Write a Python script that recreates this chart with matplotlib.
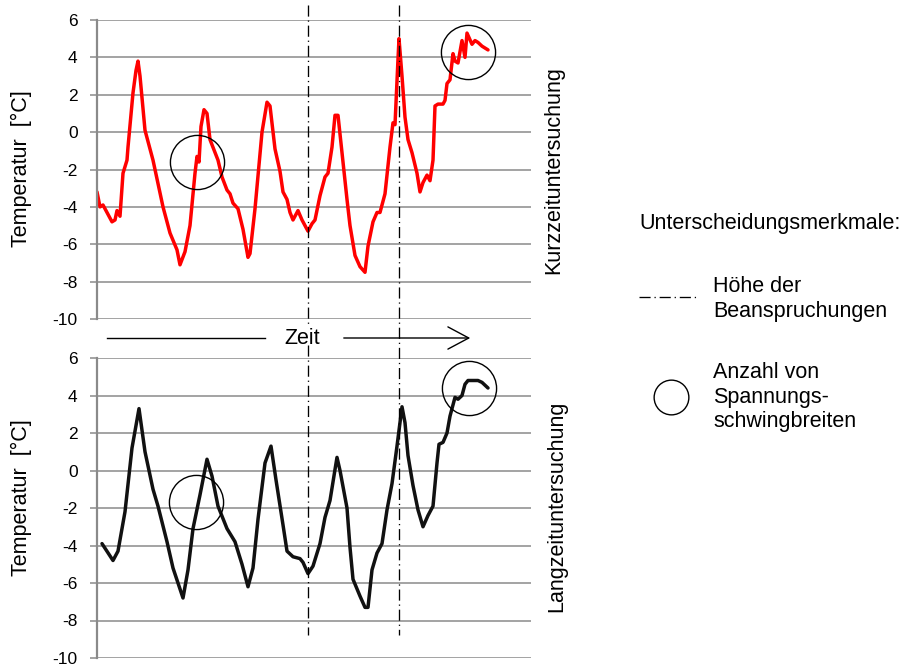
import numpy as np
import matplotlib.pyplot as plt
from matplotlib.lines import Line2D
from matplotlib.patches import FancyArrowPatch
from matplotlib.transforms import blended_transform_factory

plt.rcParams['font.family'] = ['Liberation Sans', 'DejaVu Sans']
plt.rcParams['lines.scale_dashes'] = False
plt.rcParams['axes.unicode_minus'] = False

# Kurzzeituntersuchung (rot), Zeit in willkuerlichen Einheiten
kurz_t = [0, 3, 6, 10, 15, 18, 20, 23, 26, 30, 31, 36, 39, 41, 43, 48, 56, 66, 73, 80, 83, 88, 93, 98,
          100, 102, 104, 107, 110, 113, 121, 125, 130, 133, 136, 141, 146, 151, 153, 158, 165, 170, 173,
          178, 183, 186, 190, 193, 196, 201, 205, 211, 215, 218, 223, 228, 231, 235, 238, 241, 245, 250,
          253, 258, 263, 268, 271, 276, 280, 283, 288, 293, 296, 298, 301, 302, 305, 308, 311, 315, 320,
          323, 326, 330, 333, 336, 338, 341, 346, 348, 350, 353, 356, 358, 361, 365, 368, 370, 375, 378,
          381, 385, 391]
kurz_temp = [-3.2, -4.0, -3.9, -4.3, -4.8, -4.7, -4.2, -4.5, -2.2, -1.5, -0.8, 2.1, 3.3, 3.8, 3.0, 0.1,
             -1.5, -4.0, -5.4, -6.3, -7.1, -6.4, -5.0, -2.2, -1.3, -1.6, 0.3, 1.2, 1.0, -0.4, -1.5, -2.4,
             -3.1, -3.3, -3.8, -4.1, -5.2, -6.7, -6.5, -4.1, 0.0, 1.6, 1.4, -0.9, -2.1, -3.2, -3.6, -4.3,
             -4.7, -4.2, -4.7, -5.3, -4.9, -4.7, -3.4, -2.4, -2.2, -0.8, 0.9, 0.9, -1.1, -3.6, -5.0, -6.6,
             -7.2, -7.5, -6.1, -4.8, -4.3, -4.3, -3.3, -0.8, 0.5, 0.4, 3.9, 5.0, 3.0, 0.8, -0.4, -1.1,
             -2.2, -3.2, -2.7, -2.3, -2.6, -1.5, 1.4, 1.5, 1.5, 1.7, 2.6, 2.8, 4.2, 3.8, 3.7, 4.9, 4.0,
             5.3, 4.7, 4.9, 4.8, 4.6, 4.4]

# Langzeituntersuchung (schwarz)
lang_t = [5, 16, 21, 28, 35, 42, 48, 56, 61, 70, 76, 86, 91, 96, 103, 110, 115, 121, 130, 138, 145, 151,
          156, 161, 168, 174, 179, 186, 190, 196, 203, 206, 211, 216, 223, 228, 233, 238, 240, 243, 250,
          253, 256, 263, 268, 271, 275, 280, 285, 290, 295, 300, 305, 308, 311, 316, 321, 326, 331, 336,
          340, 342, 346, 350, 353, 358, 361, 365, 368, 371, 376, 381, 385, 391]
lang_temp = [-3.9, -4.8, -4.3, -2.2, 1.2, 3.3, 1.0, -1.0, -1.9, -3.8, -5.2, -6.8, -5.3, -3.1, -1.3, 0.6,
             -0.3, -1.9, -3.1, -3.8, -5.0, -6.2, -5.2, -2.6, 0.4, 1.3, -0.5, -2.9, -4.3, -4.6, -4.7, -4.9,
             -5.5, -5.1, -3.9, -2.5, -1.6, 0.05, 0.7, 0.0, -2.0, -4.1, -5.8, -6.7, -7.3, -7.3, -5.3, -4.4,
             -3.9, -2.1, -0.7, 1.3, 3.4, 2.55, 0.8, -0.8, -2.1, -3.0, -2.4, -1.9, 0.4, 1.4, 1.5, 2.0, 2.9,
             3.9, 3.8, 4.0, 4.6, 4.8, 4.8, 4.8, 4.7, 4.4]

grenzen_t = [211, 302]          # Hoehe der Beanspruchungen
kurz_kreis_t = [100, 371]
kurz_kreis_temp = [-1.6, 4.3]
lang_kreis_t = [99, 372]
lang_kreis_temp = [-1.7, 4.4]
yticks = np.arange(-10, 7, 2)

W, H = 904, 667
fig = plt.figure(figsize=(W / 100, H / 100), dpi=100)


def fx(px):
    return px / W


def fy(py):
    return 1 - py / H


ax1 = fig.add_axes([fx(97), fy(319), fx(531) - fx(97), fy(20) - fy(319)])
ax2 = fig.add_axes([fx(97), fy(658), fx(531) - fx(97), fy(358) - fy(658)])

for ax, t, v, col, kt, kv in [(ax1, kurz_t, kurz_temp, '#ff0000', kurz_kreis_t, kurz_kreis_temp),
                              (ax2, lang_t, lang_temp, '#111111', lang_kreis_t, lang_kreis_temp)]:
    ax.plot(t, v, color=col, lw=2.5, solid_joinstyle='round', solid_capstyle='round')
    ax.plot(kt, kv, 'o', ms=39, mfc='none', mec='black', mew=1.0)
    ax.set_xlim(0, 434)
    ax.set_ylim(-10, 6)
    ax.set_yticks(yticks)
    ax.set_xticks([])
    ax.yaxis.grid(True, color='#8a8a8a', lw=1.1)
    ax.set_axisbelow(True)
    for s in ['top', 'right', 'bottom']:
        ax.spines[s].set_visible(False)
    ax.spines['left'].set_color('#8a8a8a')
    ax.spines['left'].set_linewidth(1.6)
    ax.tick_params(axis='y', length=5, width=1.1, color='#8a8a8a', labelsize=12.5, pad=9)
    ax.patch.set_alpha(0)

# strichpunktierte Linien ueber beide Diagramme
dash = (0, (8, 2.8, 0.9, 2.8))
trans = blended_transform_factory(ax1.transData, fig.transFigure)
segmente = [[(5, 325), (345, 635)], [(5, 635)]]
for xg, segs in zip(grenzen_t, segmente):
    for a, b in segs:
        fig.add_artist(Line2D([xg, xg], [fy(a), fy(b)], transform=trans, color='black',
                              lw=0.95, linestyle=dash))

# Zeitpfeil
fig.add_artist(Line2D([fx(107), fx(265)], [fy(338), fy(338)], color='black', lw=1.0))
fig.text(fx(302), fy(338), 'Zeit', fontsize=15.5, ha='center', va='center')
fig.add_artist(FancyArrowPatch(
    (fx(341), fy(338)), (fx(473), fy(338)), transform=fig.transFigure,
    arrowstyle='->,head_length=0.75,head_width=0.4', mutation_scale=20, color='black', lw=1.0))

# Achsenbeschriftungen
fig.text(fx(21), fy(169), 'Temperatur  [°C]', rotation=90, fontsize=15.5, ha='center', va='center')
fig.text(fx(21), fy(498), 'Temperatur  [°C]', rotation=90, fontsize=15.5, ha='center', va='center')
fig.text(fx(554), fy(170), 'Kurzzeituntersuchung', rotation=90, fontsize=15.5, ha='center', va='center')
fig.text(fx(557), fy(506), 'Langzeituntersuchung', rotation=90, fontsize=15.5, ha='center', va='center')

# Legende
fig.text(fx(639), fy(223), 'Unterscheidungsmerkmale:', fontsize=15.5, va='center')
fig.add_artist(Line2D([fx(639), fx(698)], [fy(297), fy(297)], color='black', lw=0.95, linestyle=dash))
fig.text(fx(713), fy(287), 'Höhe der', fontsize=15.5, va='center')
fig.text(fx(713), fy(312), 'Beanspruchungen', fontsize=15.5, va='center')
fig.add_artist(Line2D([fx(671)], [fy(397)], marker='o', ms=25, mfc='none', mec='black', mew=1.0))
fig.text(fx(713), fy(373), 'Anzahl von', fontsize=15.5, va='center')
fig.text(fx(713), fy(397), 'Spannungs-', fontsize=15.5, va='center')
fig.text(fx(713), fy(422), 'schwingbreiten', fontsize=15.5, va='center')

plt.savefig('out.png', dpi=100)
